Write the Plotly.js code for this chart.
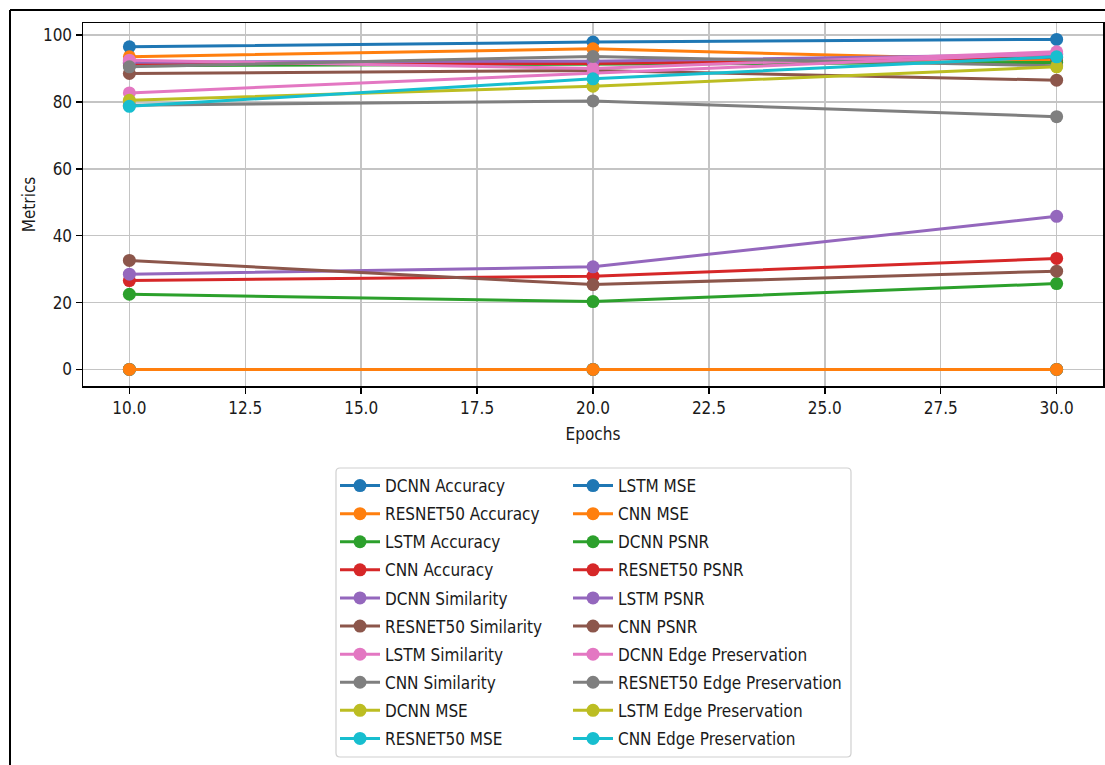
<!DOCTYPE html>
<html>
<head>
<meta charset="utf-8">
<script src="https://cdn.plot.ly/plotly-3.0.1.min.js"></script>
<style>html,body{margin:0;padding:0;background:#fff;}#chart{width:1105px;height:765px;}</style>
</head>
<body>
<div id="chart"></div>
<script>
const epochs = [10, 20, 30];

const seriesNames = [
  "DCNN Accuracy", "RESNET50 Accuracy", "LSTM Accuracy", "CNN Accuracy",
  "DCNN Similarity", "RESNET50 Similarity", "LSTM Similarity", "CNN Similarity",
  "DCNN MSE", "RESNET50 MSE", "LSTM MSE", "CNN MSE",
  "DCNN PSNR", "RESNET50 PSNR", "LSTM PSNR", "CNN PSNR",
  "DCNN Edge Preservation", "RESNET50 Edge Preservation", "LSTM Edge Preservation", "CNN Edge Preservation"
];

const dcnnAccuracy = [96.5, 97.9, 98.7];
const resnet50Accuracy = [93.5, 95.9, 92.3];
const lstmAccuracy = [90.8, 91.2, 91.8];
const cnnAccuracy = [91.5, 91.5, 93.3];
const dcnnSimilarity = [91.9, 92.2, 94.2];
const resnet50Similarity = [88.5, 89.4, 86.5];
const lstmSimilarity = [92.5, 90.0, 95.0];
const cnnSimilarity = [90.5, 93.6, 90.8];
const dcnnMSE = [0.02, 0.015, 0.01];
const resnet50MSE = [0.03, 0.02, 0.015];
const lstmMSE = [0.04, 0.03, 0.02];
const cnnMSE = [0.03, 0.025, 0.02];
const dcnnPSNR = [22.5, 20.3, 25.7];
const resnet50PSNR = [26.6, 27.9, 33.2];
const lstmPSNR = [28.5, 30.7, 45.8];
const cnnPSNR = [32.6, 25.4, 29.4];
const dcnnEdge = [82.7, 88.7, 94.5];
const resnet50Edge = [79.0, 80.3, 75.6];
const lstmEdge = [80.5, 84.7, 90.5];
const cnnEdge = [78.7, 86.9, 93.5];

const seriesValues = [
  dcnnAccuracy, resnet50Accuracy, lstmAccuracy, cnnAccuracy,
  dcnnSimilarity, resnet50Similarity, lstmSimilarity, cnnSimilarity,
  dcnnMSE, resnet50MSE, lstmMSE, cnnMSE,
  dcnnPSNR, resnet50PSNR, lstmPSNR, cnnPSNR,
  dcnnEdge, resnet50Edge, lstmEdge, cnnEdge
];

const xTickVals = [10, 12.5, 15, 17.5, 20, 22.5, 25, 27.5, 30];
const xTickText = ["10.0", "12.5", "15.0", "17.5", "20.0", "22.5", "25.0", "27.5", "30.0"];
const yTickVals = [0, 20, 40, 60, 80, 100];

const palette = ['#1f77b4','#ff7f0e','#2ca02c','#d62728','#9467bd','#8c564b','#e377c2','#7f7f7f','#bcbd22','#17becf'];

const FONT = "DejaVu Sans Condensed, DejaVu Sans, sans-serif";

const traces = seriesNames.map((name, i) => ({
  x: epochs,
  y: seriesValues[i],
  name: name,
  type: 'scatter',
  mode: 'lines+markers',
  line: {color: palette[i % 10], width: 3},
  marker: {color: palette[i % 10], size: 13},
  legend: i < 10 ? 'legend' : 'legend2',
  legendgroup: 'g' + i
}));

// plot area in pixels: left 83, right 1103, top 23, bottom 386
const L = 83, R = 1103, T = 23, B = 386;
const W = R - L, H = B - T;
const px = v => (v - L) / W;
const py = v => (B - v) / H;

function roundedRect(x0, y0, x1, y1, r) {
  const rx = r / W, ry = r / H;
  const a = px(x0), b = px(x1), top = py(y0), bot = py(y1);
  return `M${a + rx},${top} L${b - rx},${top} Q${b},${top} ${b},${top - ry} ` +
         `L${b},${bot + ry} Q${b},${bot} ${b - rx},${bot} L${a + rx},${bot} ` +
         `Q${a},${bot} ${a},${bot + ry} L${a},${top - ry} Q${a},${top} ${a + rx},${top} Z`;
}

const legendCommon = {
  orientation: 'v',
  traceorder: 'grouped',
  tracegroupgap: 3,
  itemwidth: 40,
  font: {family: FONT, size: 17, color: '#1a1a1a'},
  bgcolor: 'rgba(0,0,0,0)',
  borderwidth: 0,
  xanchor: 'left',
  yanchor: 'top',
  y: py(468)
};

const layout = {
  width: 1105,
  height: 765,
  paper_bgcolor: '#ffffff',
  plot_bgcolor: '#ffffff',
  margin: {l: L, r: 1105 - R, t: T, b: 765 - B, pad: 0},
  font: {family: FONT, size: 17, color: '#1a1a1a'},
  showlegend: true,
  xaxis: {
    range: [9, 31],
    tickvals: xTickVals,
    ticktext: xTickText,
    ticks: 'outside',
    ticklen: 6,
    tickwidth: 1.5,
    tickcolor: '#000',
    showline: true,
    linecolor: '#000',
    linewidth: 1.5,
    mirror: true,
    showgrid: true,
    gridcolor: '#c4c4c4',
    gridwidth: 1.5,
    zeroline: false,
    tickfont: {family: FONT, size: 17, color: '#1a1a1a'},
    title: {text: 'Epochs', font: {family: FONT, size: 17, color: '#1a1a1a'}, standoff: 11}
  },
  yaxis: {
    range: [-4.93, 103.6],
    tickvals: yTickVals,
    ticks: 'outside',
    ticklen: 6,
    tickwidth: 1.5,
    tickcolor: '#000',
    showline: true,
    linecolor: '#000',
    linewidth: 1.5,
    mirror: true,
    showgrid: true,
    gridcolor: '#c4c4c4',
    gridwidth: 1.5,
    zeroline: false,
    tickfont: {family: FONT, size: 17, color: '#1a1a1a'},
    title: {text: 'Metrics', font: {family: FONT, size: 17, color: '#1a1a1a'}, standoff: 3}
  },
  legend: Object.assign({}, legendCommon, {x: px(335)}),
  legend2: Object.assign({}, legendCommon, {x: px(568)}),
  shapes: [
    {type: 'path', xref: 'paper', yref: 'paper', path: roundedRect(336, 468, 851, 757, 4),
     line: {color: '#d0d0d0', width: 1.2}, fillcolor: 'rgba(255,255,255,0.8)', layer: 'below'},
    {type: 'line', xref: 'paper', yref: 'paper', x0: px(10), x1: px(10), y0: py(10), y1: py(780),
     line: {color: '#000', width: 2}},
    {type: 'line', xref: 'paper', yref: 'paper', x0: px(10), x1: px(1120), y0: py(10), y1: py(10),
     line: {color: '#000', width: 2}}
  ]
};

Plotly.newPlot('chart', traces, layout, {displayModeBar: false, staticPlot: true});
</script>
</body>
</html>
